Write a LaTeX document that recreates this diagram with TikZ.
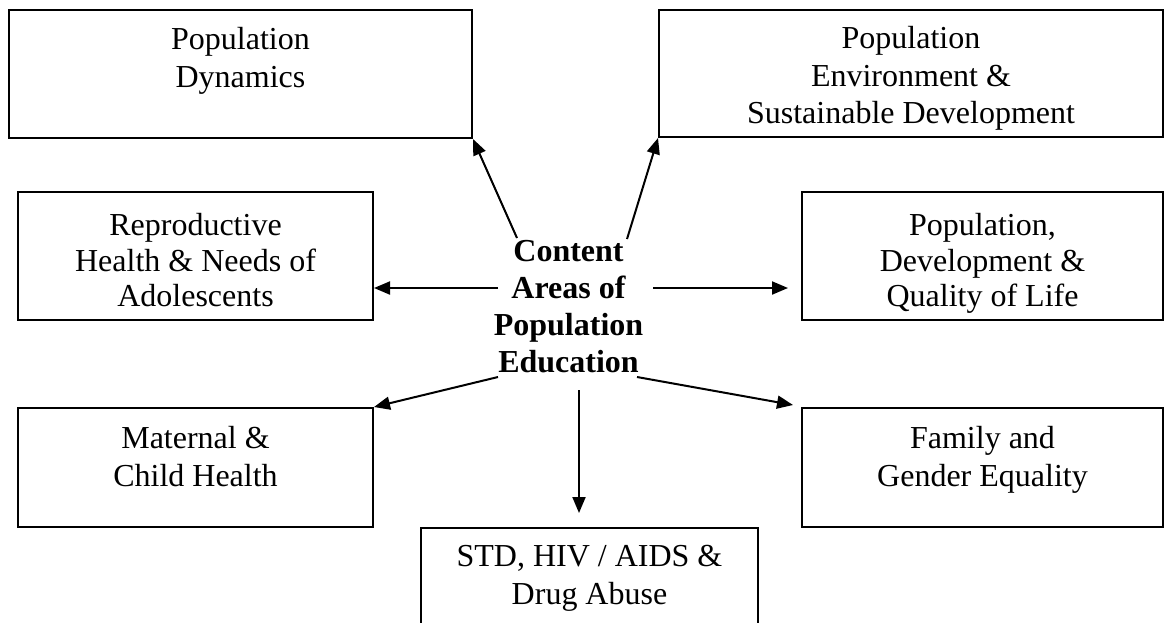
\documentclass[tikz,border=0pt]{standalone}
\usepackage{fontspec}
\setmainfont{Liberation Serif}
\usetikzlibrary{arrows.meta}
\begin{document}
\begin{tikzpicture}[x=0.5pt,y=-0.5pt,
  box/.style={draw, line width=1pt, rectangle, inner sep=0pt},
  txt/.style={anchor=north, align=center, inner sep=0pt, font=\fontsize{16pt}{18.75pt}\selectfont},
  ctr/.style={anchor=north, align=center, inner sep=0pt, font=\fontsize{16pt}{18.5pt}\selectfont\bfseries},
  arr/.style={line width=1pt, -{Triangle[length=8pt,width=6.5pt]}}]
\clip (0,0) rectangle (1165,622);
% boxes
\node[box, minimum width=231.5pt, minimum height=64pt] (b1) at (240.5,74) {};
\node[box, minimum width=252pt, minimum height=63.5pt] (b2) at (911,73.5) {};
\node[box, minimum width=177.5pt, minimum height=64pt] (b3) at (195.5,256) {};
\node[box, minimum width=180.5pt, minimum height=64pt] (b4) at (982.5,256) {};
\node[box, minimum width=177.5pt, minimum height=59.5pt] (b5) at (195.5,467.5) {};
\node[box, minimum width=180.5pt, minimum height=59.5pt] (b6) at (982.5,467.5) {};
\node[box, minimum width=168.5pt, minimum height=66pt] (b7) at (589.5,594) {};
% texts
\node[txt] (t1) at (240.5,27) {Population\\Dynamics};
\node[txt] (t2) at (911,26) {Population\\Environment \&\\Sustainable Development};
\node[txt, font=\fontsize{16pt}{17.75pt}\selectfont] (t3) at (195.5,213) {Reproductive\\Health \& Needs of\\Adolescents};
\node[txt, font=\fontsize{16pt}{17.75pt}\selectfont] (t4) at (982.5,213) {Population,\\Development \&\\Quality of Life};
\node[txt] (t5) at (195.5,426) {Maternal \&\\Child Health};
\node[txt] (t6) at (982.5,426) {Family and\\Gender Equality};
\node[txt] (t7) at (589.5,545) {STD, HIV / AIDS \&\\Drug Abuse};
\node[ctr] (c) at (568.5,240) {Content\\Areas of\\Population\\Education};
% connector ends
\coordinate (s1) at (517,238);
\coordinate (s2) at (627,239);
\coordinate (s3) at (498,288);
\coordinate (s4) at (653,288);
\coordinate (s5) at (498,377);
\coordinate (s6) at (637,377);
\coordinate (s7) at (579,390);
\coordinate (e4) at (788,288);
\coordinate (e6) at (793,405);
\coordinate (e7) at (579,513);
\draw[arr] (s1) -- (b1.south east);
\draw[arr] (s2) -- (b2.south west);
\draw[arr] (s3) -- (s3 -| b3.east);
\draw[arr] (s4) -- (e4);
\draw[arr] (s5) -- (b5.north east);
\draw[arr] (s6) -- (e6);
\draw[arr] (s7) -- (e7);
\end{tikzpicture}
\end{document}
